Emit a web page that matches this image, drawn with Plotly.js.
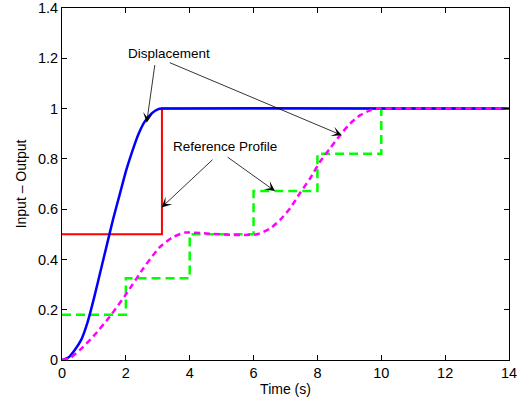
<!DOCTYPE html>
<html>
<head>
<meta charset="utf-8">
<script src="https://cdn.plot.ly/plotly-3.0.1.min.js"></script>
<style>html,body{margin:0;padding:0;background:#fff;}#chart{width:523px;height:404px;}</style>
</head>
<body>
<div id="chart"></div>
<script>
// Reference profile (red step input)
var redT = [0, 3.13, 3.13, 14];
var redV = [0.5, 0.5, 1, 1];

// Reference profile (green staircase), step start times and levels
var greenT = [0, 2, 4, 6, 8, 10, 14];
var greenV = [0.18, 0.325, 0.5, 0.672, 0.82, 1, 1];

// Displacement (blue)
var blueT = [0, 0.2, 0.4, 0.6, 0.8, 1.0, 1.2, 1.4, 1.6, 1.8, 2.0, 2.2, 2.4, 2.6, 2.8, 3.0, 3.14, 14];
var blueV = [0, 0.01, 0.04, 0.08, 0.15, 0.245, 0.35, 0.455, 0.56, 0.655, 0.75, 0.83, 0.9, 0.95, 0.98, 0.997, 1, 1];

// Displacement (magenta dashed)
var magT = [0, 0.25, 0.56, 0.98, 1.5, 2.03, 2.55, 3.07, 3.49, 3.87, 4.43, 4.95, 5.57, 6.1, 6.51, 6.83, 7.14, 7.45, 7.77, 8.08, 8.39, 8.71, 9.02, 9.33, 9.65, 9.86, 10, 14];
var magV = [0, 0.008, 0.04, 0.094, 0.173, 0.266, 0.365, 0.45, 0.49, 0.507, 0.504, 0.5, 0.497, 0.5, 0.522, 0.557, 0.603, 0.663, 0.722, 0.788, 0.841, 0.894, 0.94, 0.973, 0.993, 1, 1, 1];

var xTicks = [0, 2, 4, 6, 8, 10, 12, 14];
var yTicks = [0, 0.2, 0.4, 0.6, 0.8, 1, 1.2, 1.4];
var yTickText = ['0', '0.2', '0.4', '0.6', '0.8', '1', '1.2', '1.4'];

var traces = [
  {x: redT, y: redV, mode: 'lines', line: {color: '#ff0000', width: 2}, hoverinfo: 'skip'},
  {x: greenT, y: greenV, mode: 'lines', line: {color: '#00ff00', width: 2.5, dash: '9px,5px', shape: 'hv'}, hoverinfo: 'skip'},
  {x: blueT, y: blueV, mode: 'lines', line: {color: '#0000ff', width: 2.5, shape: 'spline', smoothing: 0.4}, hoverinfo: 'skip'},
  {x: magT, y: magV, mode: 'lines', line: {color: '#ff00ff', width: 2.5, dash: '6px,4px', shape: 'spline', smoothing: 0.6}, hoverinfo: 'skip'}
];

var font = {family: 'Liberation Sans, Arial, sans-serif', color: '#000'};
function arrow(tx, tv, ax, av) {
  return {x: tx, y: tv, xref: 'x', yref: 'y', ax: ax, ay: av, axref: 'x', ayref: 'y',
    text: '', showarrow: true, arrowhead: 3, arrowsize: 2.1, arrowwidth: 0.8, arrowcolor: '#000'};
}

var layout = {
  width: 523, height: 404,
  margin: {l: 62, r: 14, t: 7.5, b: 43.7, pad: 0},
  paper_bgcolor: '#fff', plot_bgcolor: '#fff',
  showlegend: false,
  font: {family: font.family, size: 14.5, color: '#000'},
  xaxis: {
    range: [0, 14], tickvals: xTicks, ticktext: xTicks.map(String),
    ticks: 'inside', ticklen: 5, tickwidth: 1, tickcolor: '#000',
    showline: true, linecolor: '#000', linewidth: 1, mirror: 'ticks',
    showgrid: false, zeroline: false,
    tickfont: {family: font.family, size: 14.5, color: '#000'},
    title: {text: 'Time (s)', font: {family: font.family, size: 14, color: '#000'}, standoff: 3}
  },
  yaxis: {
    range: [0, 1.4], tickvals: yTicks, ticktext: yTickText,
    ticks: 'inside', ticklen: 5, tickwidth: 1, tickcolor: '#000',
    showline: true, linecolor: '#000', linewidth: 1, mirror: 'ticks',
    showgrid: false, zeroline: false,
    tickfont: {family: font.family, size: 14.5, color: '#000'},
    title: {text: 'Input \u2013 Output', font: {family: font.family, size: 14, color: '#000'}, standoff: 8}
  },
  annotations: [
    {x: 3.35, y: 1.218, xref: 'x', yref: 'y', text: 'Displacement', showarrow: false,
      font: {family: font.family, size: 13.5, color: '#000'}},
    {x: 5.105, y: 0.848, xref: 'x', yref: 'y', text: 'Reference Profile', showarrow: false,
      font: {family: font.family, size: 13.5, color: '#000'}},
    arrow(2.653, 0.944, 2.913, 1.179),
    arrow(8.76, 0.894, 3.33, 1.185),
    arrow(3.12, 0.607, 4.76, 0.802),
    arrow(6.67, 0.672, 5.14, 0.811)
  ]
};

Plotly.newPlot('chart', traces, layout, {staticPlot: true, displayModeBar: false});
</script>
</body>
</html>
